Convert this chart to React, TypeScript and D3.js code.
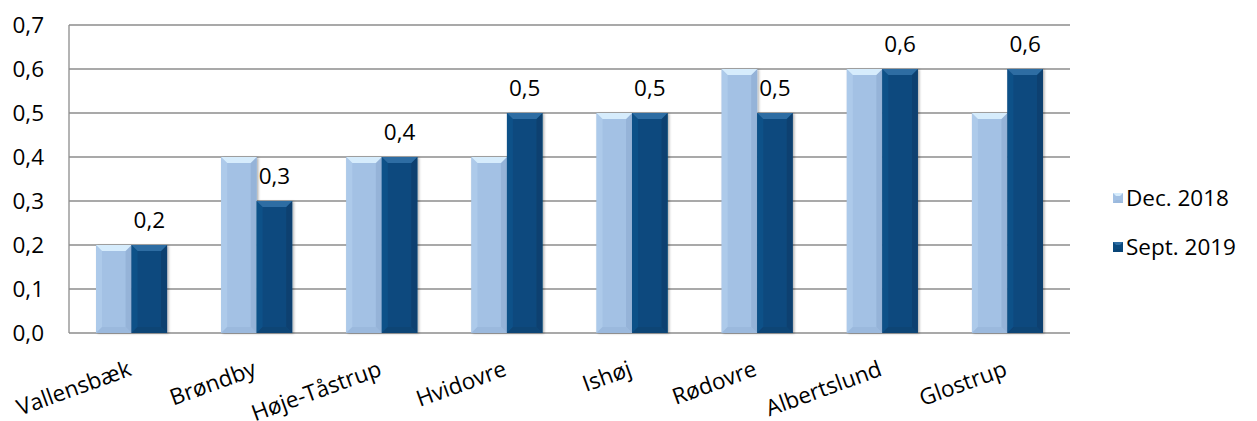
import React from "react";
import * as d3 from "d3";

const categories = ["Vallensbæk", "Brøndby", "Høje-Tåstrup", "Hvidovre", "Ishøj", "Rødovre", "Albertslund", "Glostrup"];
const seriesNames = ["Dec. 2018", "Sept. 2019"];
const dec2018 = [0.2, 0.4, 0.4, 0.4, 0.5, 0.6, 0.6, 0.5];
const sept2019 = [0.2, 0.3, 0.4, 0.5, 0.5, 0.5, 0.6, 0.6];
const yTicks = [0, 0.1, 0.2, 0.3, 0.4, 0.5, 0.6, 0.7];

const W = 1257, H = 421;
const left = 69, right = 1070, top = 25, bottom = 333;
const FONT = "'Open Sans', Carlito, Calibri, sans-serif";
const FS = 22.5;

const palettes = [
  { main: "#A3C1E4", topB: "#D6ECFC", leftB: "#ADCAEA", rightB: "#95B3D8", botB: "#9BB9DD" },
  { main: "#0B4A7E", topB: "#2D6DA3", leftB: "#0F5188", rightB: "#08406F", botB: "#094475" },
];

function Bar({ x, y, w, h, p }: { x: number; y: number; w: number; h: number; p: any }) {
  const b = Math.min(6, h / 2);
  const x1 = x + w, y1 = y + h;
  return (
    <g filter="url(#shadow)">
      <rect x={x} y={y} width={w} height={h} fill={p.main} />
      <polygon points={`${x},${y} ${x + b},${y + b} ${x + b},${y1 - b} ${x},${y1}`} fill={p.leftB} />
      <polygon points={`${x1},${y} ${x1},${y1} ${x1 - b},${y1 - b} ${x1 - b},${y + b}`} fill={p.rightB} />
      <polygon points={`${x},${y1} ${x + b},${y1 - b} ${x1 - b},${y1 - b} ${x1},${y1}`} fill={p.botB} />
      <polygon points={`${x},${y} ${x1},${y} ${x1 - b},${y + b} ${x + b},${y + b}`} fill={p.topB} />
    </g>
  );
}

export default function App() {
  const x = d3.scaleBand<string>().domain(categories).range([left, right]);
  const y = d3.scaleLinear().domain([0, 0.7]).range([bottom, top]);
  const barW = 35.5;
  const fmt = (v: number) => v.toFixed(1).replace(".", ",");
  const series = [dec2018, sept2019];

  return (
    <svg width={W} height={H} style={{ position: "absolute", left: 0, top: 0, background: "#fff" }}>
      <defs>
        <filter id="shadow" x="-20%" y="-5%" width="140%" height="110%">
          <feDropShadow dx="1.5" dy="0.5" stdDeviation="1.2" floodColor="#000" floodOpacity="0.3" />
        </filter>
      </defs>
      {yTicks.map((t) => (
        <g key={t}>
          <line x1={left} x2={right} y1={y(t)} y2={y(t)} stroke="#8c8c8c" strokeWidth={1.3} />
          <text x={44} y={y(t)} dy="0.36em" textAnchor="end" fontFamily={FONT} fontSize={FS} fill="#000">{fmt(t)}</text>
        </g>
      ))}
      <line x1={left} x2={left} y1={top} y2={bottom} stroke="#8c8c8c" strokeWidth={1.3} />
      {categories.map((c, i) => {
        const cx = (x(c) as number) + x.bandwidth() / 2;
        return (
          <g key={c}>
            {series.map((s, j) => {
              const bx = cx - barW + j * barW;
              return <Bar key={j} x={bx} y={y(s[i])} w={barW} h={bottom - y(s[i])} p={palettes[j]} />;
            })}
            <text x={cx + barW / 2} y={y(sept2019[i]) - 17} textAnchor="middle" fontFamily={FONT} fontSize={FS} fill="#000">{fmt(sept2019[i])}</text>
            <text transform={`translate(${cx + 1},${375}) rotate(-20)`} textAnchor="end" fontFamily={FONT} fontSize={FS} fill="#000">{c}</text>
          </g>
        );
      })}
      {seriesNames.map((n, j) => {
        const ly = 198 + j * 49;
        const p = palettes[j];
        const s = 10, lx = 1113, t = ly - s / 2;
        return (
          <g key={n}>
            <rect x={lx} y={t} width={s} height={s} fill={p.main} />
            <polygon points={`${lx},${t} ${lx + s},${t} ${lx + s - 3},${t + 3} ${lx + 3},${t + 3}`} fill={p.topB} />
            <polygon points={`${lx},${t + s} ${lx + 3},${t + s - 3} ${lx + s - 3},${t + s - 3} ${lx + s},${t + s}`} fill={p.botB} />
            <text x={1126} y={ly} dy="0.36em" fontFamily={FONT} fontSize={FS} fill="#000">{n}</text>
          </g>
        );
      })}
    </svg>
  );
}
